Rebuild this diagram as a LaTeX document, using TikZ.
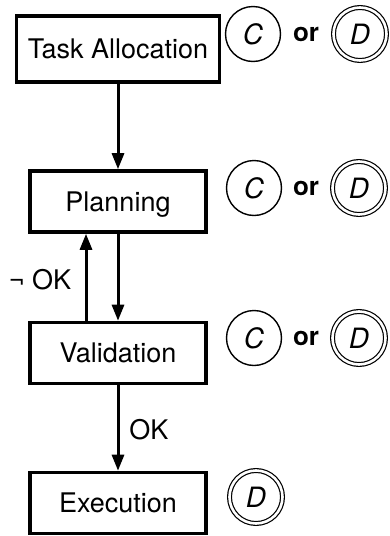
\documentclass[tikz,border=0pt]{standalone}
\usepackage{fontspec}
\setmainfont{TeX Gyre Heros}
\usetikzlibrary{arrows.meta}
\begin{document}
\begin{tikzpicture}[x=1pt,y=-1pt,
  font=\fontsize{27}{32}\selectfont,
  stage/.style={draw, line width=3.6pt, minimum width=176pt, minimum height=61pt,
    inner sep=0pt, text height=19.5pt, text depth=0pt},
  cent/.style={draw, circle, line width=1.4pt, minimum size=55pt, inner sep=0pt,
    font=\fontsize{28}{32}\selectfont\itshape, text height=20pt, text depth=0pt},
  dist/.style={cent, double, double distance=2.6pt, line width=1.2pt, minimum size=53pt},
  orword/.style={font=\fontsize{26}{32}\selectfont\bfseries, inner sep=0pt,
    text height=14pt, text depth=0pt},
  flow/.style={line width=3pt, -{Triangle[length=16pt,width=12pt]}},
  lbl/.style={inner sep=0pt, text height=19.5pt, text depth=0pt}
]
\useasboundingbox (0,0) rectangle (390,536);

% process stages
\node[stage, minimum width=203pt, minimum height=66pt] (ta) at (118,49) {Task Allocation};
\node[stage] (plan) at (118,201.5) {Planning};
\node[stage] (val)  at (118,353)   {Validation};
\node[stage] (exe)  at (118,503)   {Execution};

% flow between stages
\draw[flow] (ta.south) -- (plan.north);
\draw[flow] (plan.south) -- (val.north);
\draw[flow] ([xshift=-32pt]val.north) -- ([xshift=-32pt]plan.south);
\draw[flow] (val.south) -- (exe.north);
\node[lbl] (nok) at (40,280) {¬ OK};
\node[lbl] (ok)  at (149,430) {OK};

% centralised / distributed markers
\node[cent]   (c1) at (253,34) {C};
\node[orword] (o1) at (306,34) {or};
\node[dist]   (d1) at (360,34) {D};

\node[cent]   (c2) at (254,188) {C};
\node[orword] (o2) at (306,188) {or};
\node[dist]   (d2) at (359,188) {D};

\node[cent]   (c3) at (254,338) {C};
\node[orword] (o3) at (306,338) {or};
\node[dist]   (d3) at (359,338) {D};

\node[dist]   (d4) at (256,497) {D};
\end{tikzpicture}
\end{document}
